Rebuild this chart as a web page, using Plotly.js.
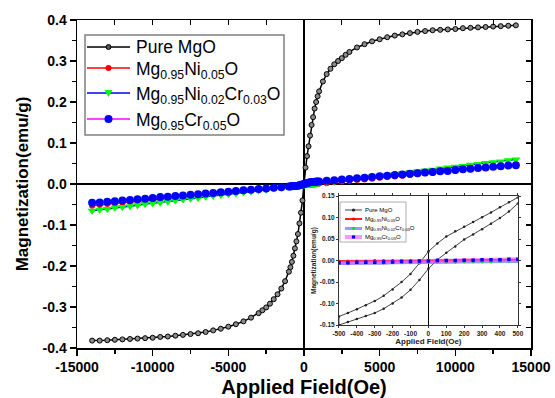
<!DOCTYPE html>
<html>
<head>
<meta charset="utf-8">
<script src="https://cdn.plot.ly/plotly-3.0.1.min.js"></script>
<style>
html,body{margin:0;padding:0;background:#fff;}
#chart{width:555px;height:398px;}
</style>
</head>
<body>
<div id="chart"></div>
<script>
// ---------- Series names ----------
var seriesNames = ['Pure MgO', 'Mg<sub>0.95</sub>Ni<sub>0.05</sub>O', 'Mg<sub>0.95</sub>Ni<sub>0.02</sub>Cr<sub>0.03</sub>O', 'Mg<sub>0.95</sub>Cr<sub>0.05</sub>O'];

// ---------- Main plot: Pure MgO ----------
var hMgO = [-14000,-13500,-13000,-12500,-12000,-11500,-11000,-10500,-10000,-9500,-9000,-8500,-8000,-7500,-7000,-6500,-6000,-5500,-5000,-4500,-4000,-3500,-3000,-2750,-2500,-2250,-2000,-1750,-1500,-1250,-1000,-900,-800,-700,-600,-500,-400,-300,-200,-100,0,100,200,300,400,500,600,700,800,900,1000,1250,1500,1750,2000,2250,2500,2750,3000,3500,4000,4500,5000,5500,6000,6500,7000,7500,8000,8500,9000,9500,10000,10500,11000,11500,12000,12500,13000,13500,14000];
var mMgO = [-0.382,-0.382,-0.381,-0.380,-0.379,-0.378,-0.377,-0.376,-0.375,-0.373,-0.372,-0.370,-0.368,-0.366,-0.364,-0.361,-0.357,-0.353,-0.348,-0.342,-0.335,-0.326,-0.315,-0.308,-0.301,-0.292,-0.281,-0.269,-0.255,-0.237,-0.214,-0.203,-0.190,-0.175,-0.157,-0.140,-0.122,-0.096,-0.070,-0.040,0.002,0.040,0.068,0.092,0.118,0.144,0.163,0.184,0.200,0.214,0.226,0.250,0.268,0.281,0.292,0.300,0.307,0.315,0.322,0.333,0.341,0.348,0.353,0.358,0.362,0.365,0.368,0.371,0.373,0.375,0.376,0.377,0.378,0.380,0.381,0.382,0.383,0.384,0.385,0.386,0.387];

// ---------- Main plot: doped samples ----------
var hDoped = [-14000,-13500,-13000,-12500,-12000,-11500,-11000,-10500,-10000,-9500,-9000,-8500,-8000,-7500,-7000,-6500,-6000,-5500,-5000,-4500,-4000,-3500,-3000,-2500,-2000,-1500,-1000,-900,-800,-700,-600,-500,-400,-300,-200,-100,0,100,200,300,400,500,600,700,800,900,1000,1500,2000,2500,3000,3500,4000,4500,5000,5500,6000,6500,7000,7500,8000,8500,9000,9500,10000,10500,11000,11500,12000,12500,13000,13500,14000];
var mNi = [-0.053,-0.051,-0.049,-0.048,-0.046,-0.044,-0.042,-0.040,-0.039,-0.037,-0.035,-0.033,-0.032,-0.030,-0.028,-0.026,-0.024,-0.023,-0.021,-0.019,-0.017,-0.015,-0.014,-0.012,-0.010,-0.008,-0.007,-0.006,-0.006,-0.005,-0.005,-0.005,-0.004,-0.004,-0.004,-0.003,-0.003,-0.002,-0.002,-0.002,-0.002,-0.001,-0.001,-0.001,0.000,0.000,0.001,0.002,0.004,0.006,0.008,0.010,0.011,0.013,0.015,0.017,0.018,0.020,0.022,0.024,0.026,0.027,0.029,0.031,0.033,0.034,0.036,0.038,0.040,0.042,0.043,0.045,0.047];
var mNiCr = [-0.065,-0.063,-0.061,-0.058,-0.056,-0.054,-0.052,-0.049,-0.047,-0.045,-0.043,-0.040,-0.038,-0.036,-0.034,-0.031,-0.029,-0.027,-0.025,-0.023,-0.020,-0.018,-0.016,-0.014,-0.011,-0.009,-0.007,-0.006,-0.006,-0.006,-0.005,-0.005,-0.004,-0.004,-0.003,-0.003,-0.003,-0.002,-0.002,-0.001,-0.001,0.000,0.000,0.001,0.001,0.002,0.002,0.004,0.006,0.009,0.011,0.013,0.015,0.018,0.020,0.022,0.024,0.026,0.029,0.031,0.033,0.035,0.038,0.040,0.042,0.044,0.047,0.049,0.051,0.053,0.055,0.058,0.060];
var mCr = [-0.046,-0.045,-0.043,-0.042,-0.040,-0.039,-0.037,-0.036,-0.034,-0.032,-0.031,-0.029,-0.028,-0.026,-0.025,-0.023,-0.022,-0.020,-0.019,-0.017,-0.015,-0.014,-0.012,-0.011,-0.009,-0.008,-0.006,-0.006,-0.005,-0.005,-0.005,-0.005,-0.004,-0.003,-0.002,-0.001,0.000,0.001,0.002,0.003,0.004,0.005,0.005,0.005,0.006,0.006,0.006,0.008,0.009,0.011,0.012,0.014,0.015,0.017,0.019,0.020,0.022,0.023,0.025,0.026,0.028,0.029,0.031,0.032,0.034,0.036,0.037,0.039,0.040,0.042,0.043,0.045,0.046];

// ---------- Inset (low field) ----------
var hInset = [-500,-450,-400,-350,-300,-250,-200,-150,-100,-50,0,50,100,150,200,250,300,350,400,450,500];
var mMgOUpper = [-0.130,-0.122,-0.113,-0.104,-0.094,-0.082,-0.067,-0.050,-0.031,-0.006,0.021,0.040,0.056,0.068,0.079,0.090,0.101,0.112,0.124,0.136,0.147];
var mMgOLower = [-0.150,-0.143,-0.136,-0.129,-0.122,-0.112,-0.100,-0.086,-0.068,-0.045,-0.019,0.002,0.018,0.033,0.049,0.061,0.073,0.086,0.099,0.114,0.133];
var mNiInset = [-0.001,-0.001,-0.001,-0.001,0.000,0.000,0.000,0.000,0.000,0.000,0.000,0.001,0.001,0.001,0.001,0.001,0.001,0.002,0.002,0.002,0.002];
var mNiCrInset = [-0.007,-0.007,-0.006,-0.006,-0.006,-0.006,-0.005,-0.005,-0.005,-0.005,-0.004,-0.004,-0.004,-0.004,-0.003,-0.003,-0.003,-0.003,-0.002,-0.002,-0.002];
var mCrInset = [-0.005,-0.005,-0.004,-0.004,-0.004,-0.003,-0.003,-0.002,-0.002,-0.001,-0.001,0.000,0.000,0.000,0.001,0.001,0.002,0.002,0.002,0.003,0.003];

// ---------- Tick labels ----------
var xTickVals = [-15000,-10000,-5000,0,5000,10000,15000];
var xTickText = ['-15000','-10000','-5000','0','5000','10000','15000'];
var yTickVals = [-0.4,-0.3,-0.2,-0.1,0.0,0.1,0.2,0.3,0.4];
var yTickText = ['-0.4','-0.3','-0.2','-0.1','0.0','0.1','0.2','0.3','0.4'];
var xInsetVals = [-500,-400,-300,-200,-100,0,100,200,300,400,500];
var xInsetText = ['-500','-400','-300','-200','-100','0','100','200','300','400','500'];
var yInsetVals = [-0.15,-0.10,-0.05,0.00,0.05,0.10,0.15];
var yInsetText = ['-0.15','-0.10','-0.05','0.00','0.05','0.10','0.15'];

var FONT = 'Liberation Sans, Arial, sans-serif';

// main styles
var mainLineColors = ['#000000', '#ff0000', '#0000ff', '#ff00ff'];
var mainMarkerColors = ['#8a8a8a', '#ff0000', '#00ff00', '#0000ff'];
// inset styles
var insetLineColors = ['#444444', '#ff2020', 'rgba(90,120,255,0.7)', 'rgba(255,80,255,0.6)'];
var insetLineWidths = [1, 2, 3, 4];
var insetMarkerColors = ['#222222', '#ff0000', '#00dd00', '#0000ff'];

var traces = [
  {x: hMgO, y: mMgO, name: seriesNames[0], type: 'scatter', mode: 'lines+markers', xaxis: 'x', yaxis: 'y',
   line: {color: mainLineColors[0], width: 1.5}, marker: {symbol: 'circle', size: 5, color: mainMarkerColors[0], line: {color: '#000', width: 1}}},
  {x: hDoped, y: mNi, name: seriesNames[1], type: 'scatter', mode: 'lines+markers', xaxis: 'x', yaxis: 'y',
   line: {color: mainLineColors[1], width: 1.5}, marker: {symbol: 'circle', size: 6, color: mainMarkerColors[1]}},
  {x: hDoped, y: mNiCr, name: seriesNames[2], type: 'scatter', mode: 'lines+markers', xaxis: 'x', yaxis: 'y',
   line: {color: mainLineColors[2], width: 1.5}, marker: {symbol: 'triangle-down', size: 8, color: mainMarkerColors[2]}},
  {x: hDoped, y: mCr, name: seriesNames[3], type: 'scatter', mode: 'lines+markers', xaxis: 'x', yaxis: 'y',
   line: {color: mainLineColors[3], width: 1.5}, marker: {symbol: 'circle', size: 8, color: mainMarkerColors[3]}},
  // inset
  {x: hInset.slice().reverse().concat(hInset), y: mMgOUpper.slice().reverse().concat(mMgOLower),
   name: seriesNames[0], type: 'scatter', mode: 'lines+markers', xaxis: 'x2', yaxis: 'y2',
   line: {color: insetLineColors[0], width: insetLineWidths[0]}, marker: {symbol: 'circle', size: 2.5, color: insetMarkerColors[0]}},
  {x: hInset, y: mNiInset, name: seriesNames[1], type: 'scatter', mode: 'lines+markers', xaxis: 'x2', yaxis: 'y2',
   line: {color: insetLineColors[1], width: insetLineWidths[1]}, marker: {symbol: 'circle', size: 3, color: insetMarkerColors[1]}},
  {x: hInset, y: mNiCrInset, name: seriesNames[2], type: 'scatter', mode: 'lines+markers', xaxis: 'x2', yaxis: 'y2',
   line: {color: insetLineColors[2], width: insetLineWidths[2]}, marker: {symbol: 'triangle-down', size: 3.5, color: insetMarkerColors[2]}},
  {x: hInset, y: mCrInset, name: seriesNames[3], type: 'scatter', mode: 'lines+markers', xaxis: 'x2', yaxis: 'y2',
   line: {color: insetLineColors[3], width: insetLineWidths[3]}, marker: {symbol: 'square', size: 3.5, color: insetMarkerColors[3]}},
  // helper empty trace for the inward mirror axes
  {x: [], y: [], xaxis: 'x3', yaxis: 'y3', type: 'scatter', hoverinfo: 'skip'}
];

// ---------- Legends (compact, drawn as shapes + annotations) ----------
var plotL = 77, plotT = 20, plotW = 454, plotH = 328;
function px2x(px) { return (px - plotL) / plotW; }
function px2y(py) { return (plotT + plotH - py) / plotH; }
var shapes = [];
var annotations = [];

function markerShape(kind, cx, cy, r, fill, lineColor) {
  if (kind === 'tri') {
    return {type: 'path', xref: 'paper', yref: 'paper', layer: 'above',
      path: 'M' + px2x(cx - r) + ',' + px2y(cy - r * 0.75) + ' L' + px2x(cx + r) + ',' + px2y(cy - r * 0.75) + ' L' + px2x(cx) + ',' + px2y(cy + r) + ' Z',
      fillcolor: fill, line: {width: 0}};
  }
  if (kind === 'sq') {
    return {type: 'rect', xref: 'paper', yref: 'paper', layer: 'above',
      x0: px2x(cx - r), x1: px2x(cx + r), y0: px2y(cy + r), y1: px2y(cy - r), fillcolor: fill, line: {width: 0}};
  }
  return {type: 'circle', xref: 'paper', yref: 'paper', layer: 'above',
    x0: px2x(cx - r), x1: px2x(cx + r), y0: px2y(cy + r), y1: px2y(cy - r), fillcolor: fill,
    line: lineColor ? {color: lineColor, width: 1} : {width: 0}};
}

// main legend
shapes.push({type: 'rect', xref: 'paper', yref: 'paper', x0: px2x(85), x1: px2x(284), y0: px2y(135), y1: px2y(35),
  line: {color: '#808080', width: 1.5}, fillcolor: '#ffffff', layer: 'above'});
var mainRowY = [47, 68, 93, 119];
var mainKinds = ['dot', 'dot', 'tri', 'dot'];
var mainR = [2.5, 3, 4, 4];
for (var i = 0; i < 4; i++) {
  var yy = px2y(mainRowY[i]);
  shapes.push({type: 'line', xref: 'paper', yref: 'paper', x0: px2x(87), x1: px2x(130), y0: yy, y1: yy,
    line: {color: mainLineColors[i], width: 1.5}, layer: 'above'});
  shapes.push(markerShape(mainKinds[i], 108.5, mainRowY[i], mainR[i], i === 0 ? '#555555' : mainMarkerColors[i], i === 0 ? '#000' : null));
  annotations.push({xref: 'paper', yref: 'paper', x: px2x(134), y: px2y(mainRowY[i] + (i === 0 ? 0 : 2.5)), xanchor: 'left', yanchor: 'middle',
    text: seriesNames[i], showarrow: false, font: {family: FONT, size: 17.5, color: '#000'}});
}

// inset legend
shapes.push({type: 'rect', xref: 'paper', yref: 'paper', x0: px2x(340), x1: px2x(406), y0: px2y(242), y1: px2y(202),
  line: {color: '#9a9a9a', width: 0.8}, fillcolor: '#ffffff', layer: 'above'});
var insetRowY = [210, 219, 228.5, 237];
var insetKinds = ['dot', 'dot', 'tri', 'sq'];
for (var j = 0; j < 4; j++) {
  var y2 = px2y(insetRowY[j]);
  shapes.push({type: 'line', xref: 'paper', yref: 'paper', x0: px2x(345), x1: px2x(362), y0: y2, y1: y2,
    line: {color: insetLineColors[j], width: insetLineWidths[j]}, layer: 'above'});
  shapes.push(markerShape(insetKinds[j], 353.5, insetRowY[j], j === 2 ? 2 : 1.6, insetMarkerColors[j], null));
  annotations.push({xref: 'paper', yref: 'paper', x: px2x(363), y: y2, xanchor: 'left', yanchor: 'middle',
    text: seriesNames[j], showarrow: false, font: {family: FONT, size: 6, color: '#000'}});
}

var layout = {
  width: 555, height: 398,
  margin: {l: 77, r: 24, t: 20, b: 50},
  paper_bgcolor: '#ffffff', plot_bgcolor: '#ffffff',
  font: {family: FONT, color: '#000'},
  showlegend: false,
  shapes: shapes,
  annotations: annotations,
  xaxis: {
    range: [-15000, 15000], domain: [0, 1], anchor: 'y',
    tickmode: 'array', tickvals: xTickVals, ticktext: xTickText,
    ticks: 'outside', ticklen: 6, tickwidth: 1.5, tickcolor: '#000',
    minor: {tickmode: 'linear', tick0: 0, dtick: 2500, ticks: 'outside', ticklen: 4, tickwidth: 1.5, tickcolor: '#000'},
    showline: true, linecolor: '#000', linewidth: 1.5,
    showgrid: false, zeroline: true, zerolinecolor: '#000', zerolinewidth: 1.5,
    tickfont: {family: FONT, size: 14, color: '#000', weight: 'bold'},
    title: {text: '<b>Applied Field(Oe)</b>', font: {family: FONT, size: 20, color: '#000'}, standoff: 6}
  },
  yaxis: {
    range: [-0.4, 0.4], domain: [0, 1], anchor: 'x',
    tickmode: 'array', tickvals: yTickVals, ticktext: yTickText,
    ticks: 'outside', ticklen: 6, tickwidth: 1.5, tickcolor: '#000',
    minor: {tickmode: 'linear', tick0: 0, dtick: 0.05, ticks: 'outside', ticklen: 4, tickwidth: 1.5, tickcolor: '#000'},
    showline: true, linecolor: '#000', linewidth: 1.5,
    showgrid: false, zeroline: true, zerolinecolor: '#000', zerolinewidth: 1.5,
    tickfont: {family: FONT, size: 14, color: '#000', weight: 'bold'},
    title: {text: '<b>Magnetization(emu/g)</b>', font: {family: FONT, size: 17, color: '#000'}, standoff: 9}
  },
  xaxis3: {
    range: [-15000, 15000], overlaying: 'x', side: 'top', anchor: 'y3',
    tickmode: 'linear', tick0: 0, dtick: 2500, ticks: 'inside', ticklen: 5, tickwidth: 1.2, tickcolor: '#000',
    showticklabels: false, showline: true, linecolor: '#000', linewidth: 1.5, showgrid: false, zeroline: false
  },
  yaxis3: {
    range: [-0.4, 0.4], overlaying: 'y', side: 'right', anchor: 'x3',
    tickmode: 'linear', tick0: 0, dtick: 0.05, ticks: 'inside', ticklen: 5, tickwidth: 1.2, tickcolor: '#000',
    showticklabels: false, showline: true, linecolor: '#000', linewidth: 1.5, showgrid: false, zeroline: false
  },
  xaxis2: {
    range: [-500, 500], domain: [0.577, 0.971], anchor: 'y2',
    tickmode: 'array', tickvals: xInsetVals, ticktext: xInsetText,
    ticks: 'outside', ticklen: 2, tickwidth: 1, tickcolor: '#333',
    showline: true, linecolor: '#333', linewidth: 1, mirror: 'ticks',
    showgrid: false, zeroline: true, zerolinecolor: '#000', zerolinewidth: 1,
    tickfont: {family: FONT, size: 6.5, color: '#222', weight: 'bold'},
    title: {text: '<b>Applied Field(Oe)</b>', font: {family: FONT, size: 8, color: '#222'}, standoff: 2}
  },
  yaxis2: {
    range: [-0.15, 0.15], domain: [0.070, 0.463], anchor: 'x2',
    tickmode: 'array', tickvals: yInsetVals, ticktext: yInsetText,
    ticks: 'outside', ticklen: 2, tickwidth: 1, tickcolor: '#333',
    showline: true, linecolor: '#333', linewidth: 1, mirror: 'ticks',
    showgrid: false, zeroline: false,
    tickfont: {family: FONT, size: 6.5, color: '#222', weight: 'bold'},
    title: {text: '<b>Magnetization(emu/g)</b>', font: {family: FONT, size: 6.5, color: '#222'}, standoff: 2}
  }
};

Plotly.newPlot('chart', traces, layout, {displayModeBar: false, staticPlot: true});
</script>
</body>
</html>
